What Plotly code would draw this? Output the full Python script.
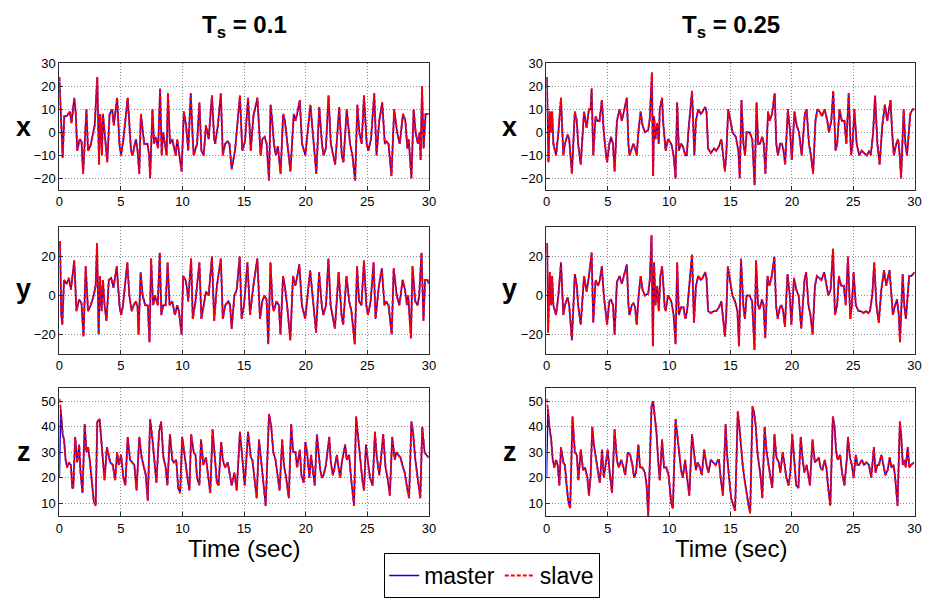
import plotly.graph_objects as go
from plotly.subplots import make_subplots

# ---------------- data ----------------
# x state, Ts = 0.1
t_xl = [0.0, 0.19, 0.27, 0.40, 0.59, 0.86, 0.99, 1.21, 1.34, 1.45, 1.66, 1.80, 1.93, 2.20, 2.33, 2.52, 2.73, 2.87,
        3.08, 3.22, 3.32, 3.46, 3.54, 3.75, 3.89, 4.08, 4.29, 4.42, 4.69, 4.88, 5.01, 5.20, 5.55, 5.82, 5.95, 6.09,
        6.22, 6.35, 6.49, 6.62, 6.89, 7.16, 7.29, 7.37, 7.56, 7.69, 7.83, 8.02, 8.18, 8.31, 8.42, 8.63, 8.71, 8.82,
        8.98, 9.17, 9.44, 9.57, 9.71, 9.92, 10.11, 10.29, 10.46, 10.67, 10.83, 10.91, 11.18, 11.37, 11.53, 11.72,
        11.90, 12.12, 12.39, 12.57, 12.65, 12.87, 13.11, 13.27, 13.46, 13.67, 13.81, 13.99, 14.26, 14.40, 14.66,
        14.85, 15.07, 15.32, 15.54, 15.75, 16.08, 16.34, 16.48, 16.67, 16.83, 17.02, 17.15, 17.28, 17.42, 17.58,
        17.74, 17.96, 18.17, 18.31, 18.49, 18.76, 19.03, 19.17, 19.30, 19.52, 19.70, 19.97, 20.38, 20.65, 20.86,
        21.10, 21.32, 21.45, 21.64, 21.85, 22.04, 22.39, 22.72, 22.93, 23.06, 23.33, 23.60, 23.79, 24.01, 24.19,
        24.35, 24.54, 24.73, 24.95, 25.08, 25.30, 25.56, 25.75, 25.97, 26.21, 26.42, 26.56, 26.72, 26.96, 27.18,
        27.42, 27.63, 27.90, 28.09, 28.25, 28.36, 28.58, 28.76, 28.92, 29.11, 29.25, 29.33, 29.44, 29.57, 29.73, 29.97]
v_xl = [24, -3, -11, 7, 7, 9, 4, 15, 8, -8, -3, -4, -18, 10, -8, -6, 0, 3,
        24, -14, 8, -10, 8, -6, -13, 8, 10, 3, 15, -5, -10, -3, 15, -8, -10, -6,
        -3, -8, -18, 8, -5, -5, -10, -20, 10, -5, -2, -7, 19, -10, 0, -7, -10, 17,
        -5, -3, -10, -3, -8, -17, 9, 3, -8, 17, -3, -10, -5, 13, -8, -10,
        3, -3, 16, -3, -5, 3, 17, -10, -5, -4, -5, -16, -8, 0, 16,
        -8, -4, 15, -8, 7, 15, -10, -3, -2, -5, -21, 12, 5, -5, -10,
        -6, -18, 8, 5, -4, -17, 8, 5, 8, 14, -5, -10, 12, -5, -18,
        11, -5, -10, -7, 16, -5, -14, 11, -10, -13, 10, -5, -10, -21, 12,
        0, -5, 16, -5, -8, -3, 17, -10, 5, 13, -5, -4, -5, -19, 10,
        0, -5, 8, 5, -7, -3, -20, 10, 0, -5, 0, -12, 20, -7, 8, 8]

# y state, Ts = 0.1
t_yl = [0.0, 0.05, 0.16, 0.24, 0.38, 0.59, 0.78, 0.94, 1.21, 1.39, 1.61, 1.80, 1.96, 2.14, 2.33, 2.55, 2.79, 2.95,
        3.06, 3.19, 3.30, 3.43, 3.54, 3.67, 3.83, 4.02, 4.21, 4.40, 4.66, 4.88, 5.01, 5.15, 5.52, 5.68, 5.87, 6.03,
        6.22, 6.35, 6.43, 6.60, 6.76, 6.97, 7.18, 7.32, 7.45, 7.61, 7.77, 7.99, 8.15, 8.28, 8.42, 8.63, 8.79, 8.95,
        9.17, 9.38, 9.57, 9.71, 9.92, 10.05, 10.24, 10.38, 10.46, 10.70, 10.83, 11.05, 11.37, 11.53, 11.72, 11.90,
        12.12, 12.39, 12.57, 12.79, 13.11, 13.27, 13.46, 13.73, 13.86, 13.99, 14.21, 14.40, 14.64, 14.80, 14.99,
        15.27, 15.48, 15.75, 16.07, 16.29, 16.47, 16.66, 16.82, 16.96, 17.14, 17.31, 17.41, 17.63, 17.82, 17.95,
        18.16, 18.30, 18.49, 18.75, 18.97, 19.16, 19.29, 19.48, 19.69, 19.96, 20.36, 20.63, 20.84, 21.09, 21.30,
        21.43, 21.65, 21.84, 22.02, 22.37, 22.67, 22.91, 23.04, 23.31, 23.53, 23.71, 23.98, 24.17, 24.33, 24.52,
        24.73, 24.92, 25.05, 25.27, 25.51, 25.67, 25.94, 26.18, 26.39, 26.53, 26.72, 26.98, 27.14, 27.39, 27.60,
        27.87, 28.06, 28.22, 28.32, 28.54, 28.67, 28.89, 29.08, 29.21, 29.40, 29.56, 29.69, 29.88, 30.0]
v_yl = [25, 28, -10, -15, 8, 6, 9, 3, 18, -8, -2, -4, -21, 15, -8, -5, 0, 5,
        27, -20, 10, -8, 8, -5, -13, 8, 9, 4, 15, -5, -10, -6, 17, 0, -8, -5,
        -3, -6, -20, 12, 0, -5, -5, -24, 19, -5, 0, -5, 22, -10, -5, -5, 17, -5,
        -3, -10, -5, -8, -20, 10, 8, 3, -3, 19, -12, -3, 17, -12, -5, 2,
        0, 20, -13, 5, 19, -12, -5, -3, -5, -17, 0, 3, 20, -12, -5,
        17, -10, 5, 19, -12, -3, 0, -2, -25, 17, -5, -8, -3, -5, -20,
        10, 5, -5, -23, 10, 5, 9, 16, -5, -12, 13, -5, -19, 12, -5,
        -10, -5, 19, -5, -17, 12, -10, -15, 10, -3, -8, -25, 15, -3, -5,
        18, -5, -10, -3, 17, -12, 5, 14, -5, -3, -5, -20, 14, 0, -5,
        8, 3, -5, 0, -22, 15, -3, -5, 0, 22, -13, 8, 8, 6]

# z state, Ts = 0.1 (slave starts from a different initial value)
t_zl = [0.0, 0.11, 0.27, 0.38, 0.51, 0.64, 0.78, 0.94, 1.05, 1.13, 1.29, 1.45, 1.61, 1.72, 1.88, 2.06, 2.20, 2.33,
        2.47, 2.60, 2.79, 2.95, 3.08, 3.27, 3.46, 3.67, 3.86, 4.02, 4.13, 4.34, 4.53, 4.69, 4.83, 5.01, 5.20, 5.36,
        5.55, 5.74, 5.90, 6.09, 6.27, 6.49, 6.68, 6.89, 7.02, 7.18, 7.37, 7.56, 7.75, 7.88, 8.10, 8.26, 8.45, 8.63,
        8.77, 8.98, 9.17, 9.30, 9.49, 9.65, 9.81, 9.97, 10.11, 10.24, 10.43, 10.56, 10.70, 10.91, 11.05, 11.18,
        11.37, 11.50, 11.69, 11.90, 12.12, 12.25, 12.44, 12.60, 12.79, 12.92, 13.14, 13.27, 13.46, 13.67, 13.86,
        13.99, 14.21, 14.40, 14.66, 14.85, 15.05, 15.32, 15.54, 15.67, 15.89, 16.02, 16.21, 16.34, 16.53, 16.75,
        17.02, 17.20, 17.37, 17.55, 17.74, 17.88, 18.09, 18.23, 18.41, 18.63, 18.82, 18.98, 19.17, 19.30, 19.52,
        19.65, 19.84, 19.97, 20.11, 20.30, 20.43, 20.59, 20.73, 20.91, 21.08, 21.18, 21.32, 21.45, 21.64, 21.91,
        22.04, 22.20, 22.31, 22.53, 22.66, 22.80, 22.93, 23.20, 23.33, 23.52, 23.68, 23.82, 23.92, 24.09, 24.22,
        24.41, 24.60, 24.73, 24.89, 25.08, 25.22, 25.43, 25.62, 25.75, 25.97, 26.10, 26.29, 26.48, 26.64, 26.83,
        27.02, 27.23, 27.37, 27.50, 27.69, 27.90, 28.04, 28.23, 28.39, 28.58, 28.71, 28.90, 29.03, 29.19, 29.30,
        29.46, 29.65, 29.78, 29.97]
v_zl = [20, 47, 37, 35, 27, 24, 26, 25, 16, 16, 36, 26, 33, 22, 14, 41, 30, 32,
        27, 20, 11, 9, 42, 43, 30, 19, 32, 28, 26, 25, 19, 30, 25, 29, 20, 17,
        36, 27, 26, 25, 15, 36, 28, 23, 21, 11, 43, 35, 26, 18, 38, 42, 28, 24,
        17, 37, 27, 26, 27, 16, 14, 36, 31, 25, 19, 15, 37, 30, 29, 20,
        17, 35, 25, 28, 20, 14, 39, 28, 18, 17, 34, 27, 24, 26, 20,
        17, 22, 15, 38, 28, 17, 38, 28, 27, 17, 12, 35, 28, 18, 9,
        45, 40, 30, 27, 20, 15, 35, 25, 20, 12, 41, 30, 30, 24, 31,
        21, 18, 34, 30, 20, 29, 22, 17, 37, 28, 23, 20, 21, 25, 36,
        26, 21, 23, 29, 24, 20, 26, 33, 27, 29, 20, 12, 9, 44, 37,
        26, 19, 15, 33, 25, 20, 17, 38, 29, 21, 27, 37, 24, 20, 13,
        36, 27, 30, 29, 28, 24, 22, 16, 12, 42, 38, 27, 22, 16, 12,
        40, 30, 29, 28]
z0_slave_l = 51

# x state, Ts = 0.25
t_xr = [0.0, 0.03, 0.16, 0.27, 0.38, 0.46, 0.56, 0.78, 0.97, 1.18, 1.37, 1.50, 1.72, 1.85, 2.07, 2.31, 2.47, 2.58,
        2.79, 3.06, 3.27, 3.46, 3.60, 3.68, 3.81, 4.00, 4.13, 4.32, 4.51, 4.67, 4.86, 4.94, 5.12, 5.26, 5.42, 5.55,
        5.74, 5.96, 6.14, 6.41, 6.55, 6.68, 6.76, 6.95, 7.08, 7.22, 7.35, 7.49, 7.67, 7.83, 8.02, 8.29, 8.42, 8.59,
        8.69, 8.77, 8.88, 9.02, 9.15, 9.23, 9.42, 9.50, 9.63, 9.71, 9.90, 10.17, 10.36, 10.52, 10.65, 10.79, 10.97,
        11.11, 11.32, 11.43, 11.59, 11.86, 12.05, 12.18, 12.37, 12.58, 12.72, 12.93, 13.04, 13.17, 13.39, 13.66,
        13.84, 14.06, 14.25, 14.38, 14.54, 14.65, 14.81, 15.0, 15.16, 15.43, 15.64, 15.75, 15.89, 16.05, 16.18,
        16.31, 16.56, 16.77, 16.96, 17.12, 17.25, 17.39, 17.58, 17.71, 17.84, 18.06, 18.19, 18.38, 18.60, 18.73,
        18.86, 19.05, 19.19, 19.32, 19.45, 19.67, 19.86, 19.99, 20.21, 20.39, 20.58, 20.80, 21.06, 21.20, 21.39,
        21.55, 21.73, 21.92, 22.08, 22.27, 22.46, 22.67, 22.89, 23.02, 23.21, 23.37, 23.56, 23.69, 23.88, 24.07,
        24.28, 24.44, 24.63, 24.82, 24.95, 25.09, 25.28, 25.49, 25.68, 25.89, 26.11, 26.30, 26.43, 26.62, 26.78,
        26.97, 27.15, 27.37, 27.58, 27.77, 28.04, 28.17, 28.31, 28.50, 28.66, 28.79, 28.90, 29.11, 29.25, 29.38,
        29.52, 29.65, 29.84, 30.0]
v_xr = [20, 24, -13, 9, 0, 9, -5, -10, 0, 15, -10, -5, -1, -3, -18, 9, 5, -5,
        -14, 9, 2, 10, 10, 19, -10, 7, 5, 5, 14, 0, -10, -13, -5, -2, -5, -17,
        5, 10, 5, 12, 15, -5, -10, -7, -5, -7, -10, 0, 9, 3, 0, 1, 6, 26,
        -19, 7, -3, 4, -5, 10, 15, 5, -5, -8, -3, -5, -10, -20, 13, -8, -5,
        -6, -10, -10, 2, 18, -10, 5, 10, 8, 9, 11, 9, -7, -9, -7,
        -8, -6, -3, -10, -17, -10, 10, 5, 0, -2, -8, -20, 14, -5, -10,
        0, 0, -3, -23, 13, -5, -5, -2, -5, -18, 9, 5, 8, 17, -5,
        -10, -5, -5, -8, -14, 10, 0, -12, 9, 3, 0, -10, 8, 10, -5,
        -10, -18, 5, 10, 9, 7, 10, 5, 0, 5, 18, -8, -5, 10, 5,
        5, -5, 17, -10, -5, 10, -5, -10, -8, -9, -10, -8, -10, 0, 16,
        -5, -14, 3, 12, 5, 14, 0, -10, -5, -3, -10, -20, 10, -5, -10,
        2, 8, 10, 10]

# y state, Ts = 0.25
t_yr = [0.0, 0.05, 0.13, 0.27, 0.38, 0.46, 0.56, 0.78, 0.97, 1.18, 1.37, 1.50, 1.72, 1.85, 2.07, 2.31, 2.47, 2.58,
        2.79, 3.06, 3.27, 3.46, 3.68, 3.81, 4.00, 4.19, 4.32, 4.51, 4.67, 4.94, 5.12, 5.26, 5.42, 5.55, 5.74, 5.96,
        6.14, 6.41, 6.55, 6.68, 6.76, 6.95, 7.08, 7.22, 7.35, 7.51, 7.67, 7.83, 8.02, 8.29, 8.42, 8.56, 8.67, 8.77,
        8.88, 9.02, 9.15, 9.28, 9.42, 9.53, 9.63, 9.71, 9.90, 10.17, 10.36, 10.52, 10.65, 10.79, 10.97, 11.16, 11.32,
        11.46, 11.64, 11.86, 12.02, 12.18, 12.37, 12.58, 12.72, 12.93, 13.04, 13.17, 13.39, 13.66, 13.84, 14.06,
        14.25, 14.38, 14.54, 14.65, 14.78, 15.03, 15.16, 15.37, 15.56, 15.69, 15.85, 16.04, 16.17, 16.31, 16.55,
        16.76, 16.95, 17.08, 17.24, 17.37, 17.56, 17.69, 17.83, 18.01, 18.17, 18.36, 18.57, 18.71, 18.84, 19.03,
        19.16, 19.29, 19.43, 19.64, 19.83, 19.96, 20.17, 20.36, 20.55, 20.76, 21.03, 21.16, 21.35, 21.51, 21.69,
        21.88, 22.04, 22.23, 22.41, 22.63, 22.84, 22.97, 23.16, 23.35, 23.51, 23.69, 23.83, 24.01, 24.23, 24.39,
        24.57, 24.76, 24.89, 25.03, 25.21, 25.43, 25.61, 25.83, 26.04, 26.23, 26.36, 26.55, 26.71, 26.89, 27.08,
        27.29, 27.51, 27.69, 27.96, 28.09, 28.23, 28.41, 28.57, 28.71, 28.81, 29.03, 29.16, 29.29, 29.43, 29.56,
        29.75, 30.0]
v_yr = [22, 27, -19, 12, -5, 10, -5, -10, 0, 17, -10, -5, -1, -5, -23, 11, 5, -5,
        -15, 10, 2, 10, 22, -14, 8, 5, 7, 15, 0, -15, -3, -2, -5, -20, 7, 10,
        6, 13, 16, -5, -10, -5, -4, -6, -15, 0, 10, 3, 0, 1, 8, 31, -26, 17,
        -5, 5, -8, 10, 15, 5, -6, -8, 0, -3, -10, -25, 17, -10, -6, -6, -12,
        -8, 5, 21, -14, 5, 10, 8, 9, 12, 9, -8, -9, -8, -8, -6,
        -3, -10, -21, -10, 15, 5, 0, -3, -8, -26, 19, -5, -12, 0, 0,
        -3, -28, 18, -5, -7, -2, -5, -22, 10, 5, 10, 20, -5, -12, -6,
        -5, -8, -16, 11, 0, -15, 9, 3, 0, -17, 8, 12, -5, -10, -20,
        5, 10, 9, 8, 12, 5, 0, 3, 24, -10, -5, 10, 5, 5, -5,
        20, -12, -5, 12, -5, -8, -8, -9, -8, -9, -8, 0, 17, -5, -14,
        3, 13, 5, 13, 0, -10, -5, -2, -10, -24, 11, -5, -12, 2, 10,
        10, 12]

# z state, Ts = 0.25 (slave starts from a different initial value)
t_zr = [0.0, 0.11, 0.24, 0.38, 0.51, 0.64, 0.78, 0.91, 1.05, 1.18, 1.37, 1.50, 1.64, 1.77, 1.93, 2.12, 2.31, 2.47,
        2.60, 2.79, 2.98, 3.14, 3.33, 3.46, 3.60, 3.73, 3.86, 4.00, 4.21, 4.35, 4.53, 4.67, 4.86, 4.99, 5.15, 5.34,
        5.55, 5.74, 5.88, 6.09, 6.28, 6.41, 6.63, 6.82, 7.00, 7.14, 7.30, 7.49, 7.62, 7.81, 8.02, 8.16, 8.29, 8.56,
        8.69, 8.83, 8.96, 9.10, 9.23, 9.42, 9.58, 9.77, 9.95, 10.17, 10.30, 10.52, 10.65, 10.79, 10.97, 11.11,
        11.30, 11.46, 11.64, 11.86, 12.05, 12.18, 12.32, 12.50, 12.66, 12.85, 13.04, 13.20, 13.39, 13.58, 13.79,
        13.98, 14.06, 14.19, 14.38, 14.60, 14.72, 14.88, 15.05, 15.37, 15.59, 15.72, 15.86, 15.99, 16.12, 16.26,
        16.44, 16.60, 16.79, 16.93, 17.06, 17.19, 17.33, 17.46, 17.59, 17.78, 17.94, 18.13, 18.26, 18.40, 18.58,
        18.74, 18.93, 19.06, 19.25, 19.41, 19.55, 19.73, 19.87, 20.03, 20.19, 20.35, 20.53, 20.72, 20.88, 21.02,
        21.20, 21.34, 21.47, 21.68, 21.87, 22.06, 22.19, 22.33, 22.49, 22.67, 22.81, 22.94, 23.13, 23.34, 23.48,
        23.61, 23.74, 23.93, 24.09, 24.28, 24.47, 24.57, 24.73, 24.89, 25.03, 25.21, 25.35, 25.48, 25.70, 25.88,
        26.07, 26.28, 26.47, 26.68, 26.82, 26.95, 27.09, 27.30, 27.49, 27.62, 27.81, 27.97, 28.10, 28.29, 28.42,
        28.56, 28.61, 28.80, 28.90, 29.04, 29.17, 29.28, 29.44, 29.57, 29.71, 29.95]
v_zr = [20, 47, 40, 35, 27, 24, 27, 25, 17, 32, 26, 25, 17, 11, 8, 44, 30, 29,
        19, 31, 23, 24, 20, 13, 21, 40, 33, 28, 22, 18, 31, 20, 27, 31, 22, 14,
        39, 27, 24, 27, 24, 21, 30, 29, 25, 20, 22, 33, 24, 24, 22, 17, 5, 48,
        50, 43, 38, 27, 19, 35, 24, 24, 21, 10, 8, 43, 37, 30, 23, 20,
        27, 20, 13, 37, 29, 23, 26, 24, 21, 31, 25, 22, 27, 26, 25,
        27, 27, 20, 13, 41, 29, 20, 12, 7, 46, 40, 30, 25, 20, 15,
        10, 6, 48, 45, 40, 30, 25, 20, 12, 40, 30, 25, 20, 16, 37,
        28, 26, 22, 30, 25, 20, 17, 22, 37, 27, 17, 16, 36, 27, 22,
        25, 20, 17, 35, 26, 27, 28, 24, 23, 27, 24, 17, 9, 44, 40,
        30, 27, 29, 22, 17, 27, 36, 28, 25, 20, 29, 25, 25, 27, 25,
        26, 25, 20, 32, 22, 25, 25, 29, 25, 21, 23, 28, 24, 25, 20,
        12, 9, 42, 37, 25, 27, 24, 32, 24, 25, 26]
z0_slave_r = 51

time_ticks = [0, 5, 10, 15, 20, 25, 30]
titles = ["T<sub>s</sub> = 0.1", "T<sub>s</sub> = 0.25"]
state_labels = ["x", "y", "z"]
legend_names = ["master", "slave"]

# ---------------- figure ----------------
FONT = "Liberation Sans, Arial, sans-serif"
W, H = 929, 599

fig = make_subplots(rows=3, cols=2)

series = [
    (1, 1, t_xl, v_xl, None), (1, 2, t_xr, v_xr, None),
    (2, 1, t_yl, v_yl, None), (2, 2, t_yr, v_yr, None),
    (3, 1, t_zl, v_zl, z0_slave_l), (3, 2, t_zr, v_zr, z0_slave_r),
]
first = True
for r, c, tt, vv, z0 in series:
    slave = list(vv)
    if z0 is not None:
        slave[0] = z0
    fig.add_trace(go.Scatter(x=tt, y=vv, mode="lines", name=legend_names[0],
                             line=dict(color="#0000ff", width=1.6),
                             showlegend=first, legendgroup="m"), row=r, col=c)
    fig.add_trace(go.Scatter(x=tt, y=slave, mode="lines", name=legend_names[1],
                             line=dict(color="#ff0000", width=2.0, dash="4px,2px"),
                             showlegend=first, legendgroup="s"), row=r, col=c)
    first = False

# domains in pixel terms
xdom = [[56 / W, 430 / W], [549 / W, 921.5 / W]]
ydom = [[1 - 185 / H, 1 - 57 / H], [1 - 351 / H, 1 - 223 / H], [1 - 515 / H, 1 - 386 / H]]
yranges = [[-25, 30], [-30, 35], [5, 55]]
yticks = [[-20, -10, 0, 10, 20, 30], [-20, 0, 20], [10, 20, 30, 40, 50]]

axis_common = dict(showline=True, mirror=True, linecolor="#2b2b2b", linewidth=1,
                   ticks="inside", ticklen=4, tickcolor="#2b2b2b",
                   showgrid=True, gridcolor="#8c8c8c", griddash="1px,2px", gridwidth=1,
                   zeroline=False, tickfont=dict(family=FONT, size=13, color="black"))
for r in range(3):
    for c in range(2):
        idx = r * 2 + c + 1
        xa = "xaxis" if idx == 1 else f"xaxis{idx}"
        ya = "yaxis" if idx == 1 else f"yaxis{idx}"
        fig.update_layout({
            xa: dict(domain=xdom[c], range=[0, 30], tickvals=time_ticks, **axis_common),
            ya: dict(domain=ydom[r], range=yranges[r], tickvals=yticks[r], **axis_common),
        })

ann = []
col_cx = [(56 + 430) / 2 / W, (549 + 921.5) / 2 / W]
for c in range(2):
    ann.append(dict(text="<b>" + titles[c] + "</b>", x=col_cx[c], y=1 - 20 / H, xref="paper", yref="paper",
                    showarrow=False, font=dict(family=FONT, size=24, color="black"),
                    xanchor="center", yanchor="middle"))
    ann.append(dict(text="Time (sec)", x=col_cx[c], y=1 - 548 / H, xref="paper", yref="paper",
                    showarrow=False, font=dict(family=FONT, size=24, color="black"),
                    xanchor="center", yanchor="middle"))
row_cy = [121, 285, 450]
lab_x = [20, 512]
for r in range(3):
    for c in range(2):
        ann.append(dict(text="<b>" + state_labels[r] + "</b>", x=lab_x[c] / W, y=1 - row_cy[r] / H,
                        xref="paper", yref="paper", showarrow=False,
                        font=dict(family=FONT, size=27, color="black"),
                        xanchor="center", yanchor="middle"))

fig.update_layout(
    width=W, height=H, margin=dict(l=0, r=0, t=0, b=0),
    paper_bgcolor="white", plot_bgcolor="white",
    annotations=ann,
    legend=dict(orientation="h", x=494 / W, xanchor="center", y=1 / H, yanchor="bottom",
                bordercolor="black", borderwidth=1, bgcolor="white",
                font=dict(family=FONT, size=23, color="black"),
                itemwidth=30, tracegroupgap=0),
)

fig.write_html("out.html")
